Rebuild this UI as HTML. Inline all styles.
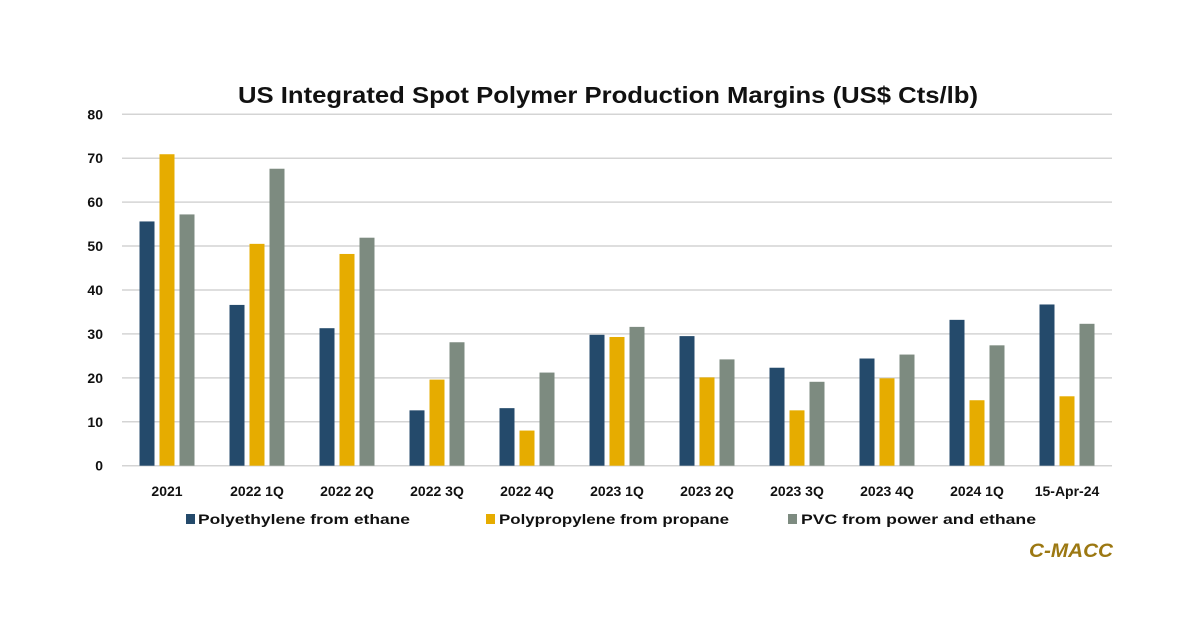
<!DOCTYPE html>
<html><head><meta charset="utf-8"><style>
html,body{margin:0;padding:0;background:#fff;}
svg{display:block;font-family:"Liberation Sans",sans-serif;}
</style></head><body>
<svg width="1200" height="627" viewBox="0 0 1200 627" xmlns="http://www.w3.org/2000/svg">
<rect width="1200" height="627" fill="#fff"/>
<text x="608" y="103" text-anchor="middle" font-size="23" font-weight="bold" fill="#111" textLength="740" lengthAdjust="spacingAndGlyphs">US Integrated Spot Polymer Production Margins (US$ Cts/lb)</text>
<g id="grid" stroke="#d4d4d4" stroke-width="1.5"></g>
<g id="ylab" font-size="14" font-weight="bold" fill="#111" text-anchor="end"></g>
<g id="bars"></g>
<g id="xlab" font-size="14" font-weight="bold" fill="#111" text-anchor="middle"></g>
<g font-size="14" font-weight="bold" fill="#111">
<rect x="186" y="514" width="9" height="10" fill="#244a6b"/>
<text x="198" y="524" textLength="212" lengthAdjust="spacingAndGlyphs">Polyethylene from ethane</text>
<rect x="486" y="514" width="9" height="10" fill="#e6ac00"/>
<text x="499" y="524" textLength="230" lengthAdjust="spacingAndGlyphs">Polypropylene from propane</text>
<rect x="788" y="514" width="9" height="10" fill="#7d8b80"/>
<text x="801" y="524" textLength="235" lengthAdjust="spacingAndGlyphs">PVC from power and ethane</text>
</g>
<text x="1113" y="557" text-anchor="end" font-size="19" font-weight="bold" font-style="italic" fill="#9c7812" textLength="84" lengthAdjust="spacingAndGlyphs">C-MACC</text>
<script>
var ns="http://www.w3.org/2000/svg";
function el(p,t,a,txt){var e=document.createElementNS(ns,t);for(var k in a)e.setAttribute(k,a[k]);if(txt!==undefined)e.textContent=txt;document.getElementById(p).appendChild(e);}
var y0=465.7,s=4.393;
for(var v=0;v<=80;v+=10){var y=y0-v*s;el("grid","line",{x1:122,x2:1112,y1:y,y2:y});el("ylab","text",{x:103,y:y+5},String(v));}
var labs=["2021","2022 1Q","2022 2Q","2022 3Q","2022 4Q","2023 1Q","2023 2Q","2023 3Q","2023 4Q","2024 1Q","15-Apr-24"];
var d=[[55.6,70.9,57.2],[36.6,50.5,67.6],[31.3,48.2,51.9],[12.6,19.6,28.1],[13.1,8,21.2],[29.8,29.3,31.6],[29.5,20.1,24.2],[22.3,12.6,19.1],[24.4,19.9,25.3],[33.2,14.9,27.4],[36.7,15.8,32.3]];
var cols=["#244a6b","#e6ac00","#7d8b80"];
for(var i=0;i<11;i++){var c=122+90*i+45;
for(var j=0;j<3;j++){var h=d[i][j]*s;el("bars","rect",{x:c-7.5+(j-1)*20,y:y0-h,width:15,height:h,fill:cols[j]});}
el("xlab","text",{x:c,y:496},labs[i]);}
</script>
</svg>
</body></html>
